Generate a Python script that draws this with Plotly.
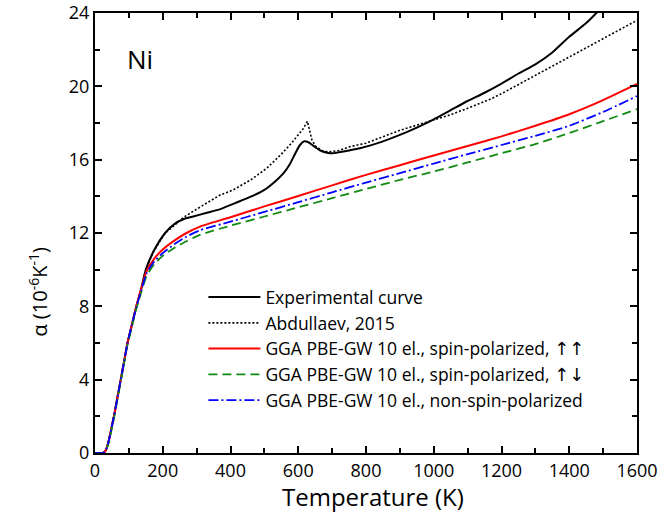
import plotly.graph_objects as go

# Experimental curve
T_exp = [0, 22, 28, 33, 41, 48, 56, 66, 76, 86, 96, 109, 122, 137, 150, 173, 207, 235, 261, 290, 330, 370, 410, 460, 500, 530, 556, 575, 590, 605, 618, 630, 645, 665, 685, 700, 720, 750, 782, 850, 900, 950, 1000, 1050, 1100, 1150, 1200, 1250, 1300, 1350, 1400, 1450, 1480, 1500]
a_exp = [0, 0, 0.05, 0.2, 0.7, 1.3, 2.0, 3.0, 4.0, 5.0, 6.0, 7.0, 8.0, 9.0, 10.0, 11.0, 12.0, 12.5, 12.75, 12.9, 13.1, 13.3, 13.6, 13.98, 14.35, 14.78, 15.25, 15.75, 16.3, 16.8, 17.0, 16.95, 16.75, 16.5, 16.38, 16.35, 16.4, 16.5, 16.62, 17.0, 17.35, 17.75, 18.2, 18.7, 19.2, 19.65, 20.15, 20.7, 21.2, 21.85, 22.7, 23.45, 24.0, 24.4]

# Abdullaev, 2015
T_abd = [0, 22, 28, 33, 41, 48, 56, 66, 76, 86, 96, 109, 122, 137, 150, 173, 207, 230, 261, 300, 369, 408, 460, 507, 550, 580, 600, 615, 627, 633, 640, 650, 670, 690, 720, 753, 800, 900, 1000, 1048, 1100, 1166, 1200, 1300, 1400, 1500, 1600]
a_abd = [0, 0, 0.05, 0.2, 0.7, 1.3, 2.0, 3.0, 4.0, 5.0, 6.0, 7.0, 8.0, 9.0, 10.0, 11.0, 12.0, 12.35, 12.85, 13.3, 14.07, 14.35, 14.9, 15.53, 16.3, 16.9, 17.35, 17.7, 18.1, 17.6, 17.1, 16.75, 16.5, 16.42, 16.5, 16.71, 16.9, 17.6, 18.15, 18.44, 18.8, 19.29, 19.6, 20.6, 21.6, 22.6, 23.6]

# GGA PBE-GW calculations
T_calc = [0, 22, 28, 33, 41, 48, 56, 66, 76, 86, 96, 109, 122, 137, 152, 175, 200, 235, 270, 310, 400, 500, 600, 700, 800, 900, 1000, 1100, 1200, 1300, 1400, 1500, 1600]
a_up_up = [0, 0, 0.05, 0.2, 0.7, 1.3, 2.0, 3.0, 4.0, 5.0, 6.0, 7.0, 8.0, 9.0, 9.9, 10.6, 11.1, 11.6, 12.0, 12.35, 12.86, 13.45, 14.02, 14.6, 15.17, 15.7, 16.23, 16.75, 17.27, 17.85, 18.48, 19.25, 20.13]
a_up_down = [0, 0, 0.03, 0.15, 0.6, 1.2, 1.9, 2.9, 3.9, 4.9, 5.9, 6.9, 7.85, 8.8, 9.65, 10.3, 10.75, 11.2, 11.55, 11.9, 12.4, 12.9, 13.4, 13.9, 14.4, 14.9, 15.35, 15.85, 16.35, 16.85, 17.45, 18.1, 18.76]
a_nsp = [0, 0, 0.05, 0.2, 0.7, 1.3, 2.0, 3.0, 4.0, 5.0, 6.0, 7.0, 7.95, 8.9, 9.8, 10.45, 10.9, 11.4, 11.8, 12.15, 12.62, 13.15, 13.68, 14.22, 14.75, 15.27, 15.79, 16.3, 16.8, 17.3, 17.85, 18.6, 19.47]

x_ticks = [0, 200, 400, 600, 800, 1000, 1200, 1400, 1600]
y_ticks = [0, 4, 8, 12, 16, 20, 24]

FONT = "Open Sans"
ARROWS_UU = '<span style="font-family:DejaVu Sans;font-size:18px">\u2191\u2191</span>'
ARROWS_UD = '<span style="font-family:DejaVu Sans;font-size:18px">\u2191\u2193</span>'

fig = go.Figure()
fig.add_trace(go.Scatter(x=T_exp, y=a_exp, mode="lines", name="Experimental curve",
                         line=dict(color="black", width=2, shape="spline", smoothing=0.6)))
fig.add_trace(go.Scatter(x=T_abd, y=a_abd, mode="lines", name="Abdullaev, 2015",
                         line=dict(color="black", width=1.6, dash="2px,2px")))
fig.add_trace(go.Scatter(x=T_calc, y=a_up_up, mode="lines",
                         name="GGA PBE-GW 10 el., spin-polarized, " + ARROWS_UU,
                         line=dict(color="#ff0000", width=2, shape="spline", smoothing=0.6)))
fig.add_trace(go.Scatter(x=T_calc, y=a_up_down, mode="lines",
                         name="GGA PBE-GW 10 el., spin-polarized, " + ARROWS_UD,
                         line=dict(color="#108a10", width=1.8, dash="9px,5px", shape="spline", smoothing=0.6)))
fig.add_trace(go.Scatter(x=T_calc, y=a_nsp, mode="lines",
                         name="GGA PBE-GW 10 el., non-spin-polarized",
                         line=dict(color="#0000ff", width=1.8, dash="10px,3px,2px,3px", shape="spline", smoothing=0.6)))

fig.add_annotation(x=133, y=21.5, text="Ni", showarrow=False, xref="x", yref="y",
                   font=dict(family=FONT, size=26, color="black"))
# axis titles as annotations for exact placement
fig.add_annotation(x=(373 - 95) / 542, y=-0.098, xref="paper", yref="paper",
                   text="Temperature (K)", showarrow=False, yanchor="middle",
                   font=dict(family=FONT, size=24, color="black"))
fig.add_annotation(x=-0.106, y=(453 - 292) / 440, xref="paper", yref="paper",
                   text="\u03b1 (10<sup>-6</sup>K<sup>-1</sup>)", showarrow=False, textangle=-90,
                   xanchor="center", yanchor="middle",
                   font=dict(family=FONT, size=20, color="black"))

axis_common = dict(showline=True, linewidth=2, linecolor="black", mirror="ticks",
                   ticks="inside", ticklen=7, tickwidth=2, tickcolor="black",
                   showgrid=False, zeroline=False, automargin=False,
                   tickfont=dict(family=FONT, size=18, color="black"))

fig.update_xaxes(range=[0, 1600], tickvals=x_ticks,
                 minor=dict(ticks="inside", ticklen=5, tickwidth=1.5, tickcolor="black", dtick=100, tick0=0, showgrid=False),
                 **axis_common)
fig.update_yaxes(range=[0, 24], tickvals=y_ticks,
                 minor=dict(ticks="inside", ticklen=5, tickwidth=1.5, tickcolor="black", dtick=2, tick0=0, showgrid=False),
                 **axis_common)

fig.update_layout(
    width=661, height=522,
    margin=dict(l=95, r=24, t=13, b=69),
    plot_bgcolor="white", paper_bgcolor="white",
    font=dict(family=FONT, size=16, color="black"),
    legend=dict(x=0.2, y=0.395, xanchor="left", yanchor="top", itemwidth=52,
                bgcolor="rgba(0,0,0,0)", font=dict(family=FONT, size=17.5, color="black"),
                tracegroupgap=0),
    showlegend=True,
)

fig.write_html("out.html")
